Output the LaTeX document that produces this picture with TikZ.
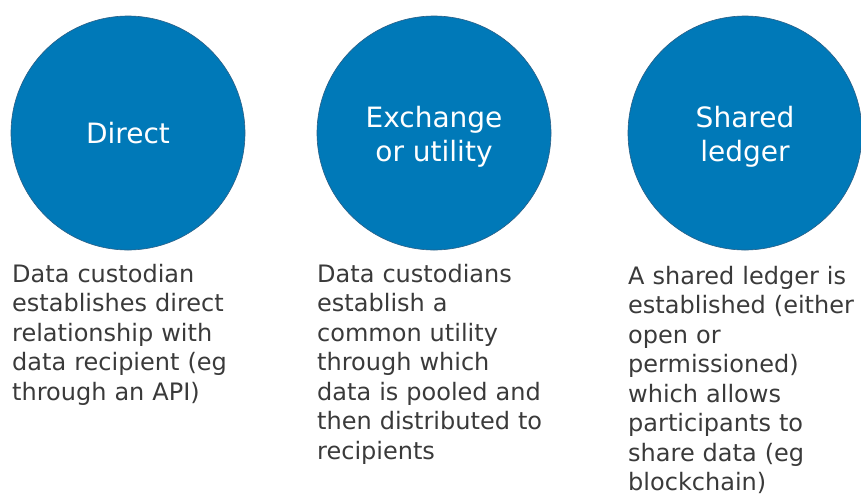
\documentclass[tikz,border=0pt]{standalone}
\usepackage{fontspec}
\setmainfont{DejaVu Sans}
\definecolor{modelblue}{HTML}{0079B8}
\definecolor{modelrim}{HTML}{2A5F86}
\definecolor{bodygrey}{HTML}{3A3A3A}

\begin{document}
\begin{tikzpicture}[x=1pt,y=-1pt,
  model/.style={circle,fill=modelblue,draw=modelrim,line width=0.6pt,minimum size=234pt,inner sep=0pt},
  modeltitle/.style={inner sep=0pt,text=white,align=center,font=\fontsize{28}{34}\selectfont},
  blurb/.style={anchor=base west,inner sep=0pt,text width=240pt,align=left,
    text=bodygrey,font=\fontsize{24}{29.5}\selectfont}]
\useasboundingbox (0,0) rectangle (861,496);

\node[model] (direct) at (128,133) {};
\node[model] (exchange) at (434,133) {};
\node[model] (ledger) at (745,133) {};

\node[modeltitle] (directname) at (direct.center) {Direct};
\node[modeltitle,yshift=-3.5pt] (exchangename) at (exchange.center) {Exchange\\or utility};
\node[modeltitle,yshift=-3.5pt] (ledgername) at (ledger.center) {Shared\\ledger};

\node[blurb] (directtext) at (12,282) {Data custodian\\establishes direct\\relationship with\\data recipient (eg\\through an API)};
\node[blurb] (exchangetext) at (317,282) {Data custodians\\establish a\\common utility\\through which\\data is pooled and\\then distributed to\\recipients};
\node[blurb] (ledgertext) at (628,284) {A shared ledger is\\established (either\\open or\\permissioned)\\which allows\\participants to\\share data (eg\\blockchain)};
\end{tikzpicture}
\end{document}
